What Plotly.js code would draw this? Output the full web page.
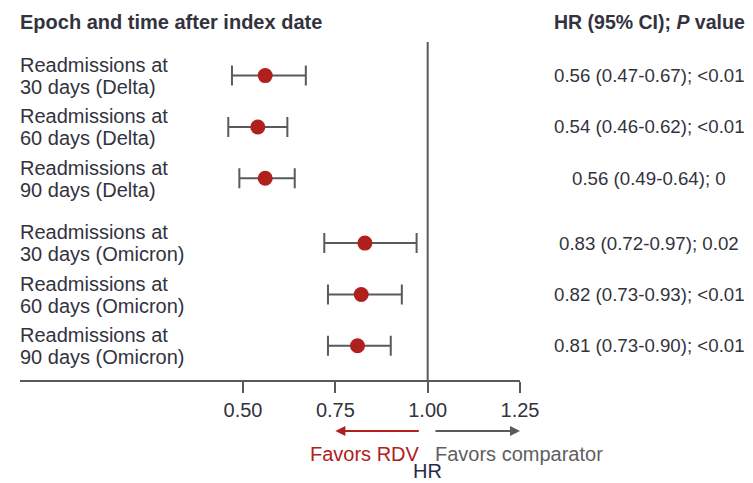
<!DOCTYPE html>
<html>
<head>
<meta charset="utf-8">
<script src="https://cdn.plot.ly/plotly-3.0.1.min.js"></script>
<style>html,body{margin:0;padding:0;background:#fff;}#chart{width:753px;height:483px;}</style>
</head>
<body>
<div id="chart"></div>
<script>
// ---- data ----
const labelLine1 = ["Readmissions at","Readmissions at","Readmissions at","Readmissions at","Readmissions at","Readmissions at"];
const labelLine2 = ["30 days (Delta)","60 days (Delta)","90 days (Delta)","30 days (Omicron)","60 days (Omicron)","90 days (Omicron)"];
const groups = [0,0,0,1,1,1];
const hr   = [0.56, 0.54, 0.56, 0.83, 0.82, 0.81];
const ciLo = [0.47, 0.46, 0.49, 0.72, 0.73, 0.73];
const ciHi = [0.67, 0.62, 0.64, 0.97, 0.93, 0.90];
const pText = ["<0.01","<0.01","0","0.02","<0.01","<0.01"];
const tickVals = [0.50, 0.75, 1.00, 1.25];
const tickText = ["0.50","0.75","1.00","1.25"];

// ---- layout helpers ----
const groupGap = 0.262;
const ypos = hr.map((_, i) => i + groups[i] * groupGap);
const fmt = v => v.toFixed(2);
const rightText = hr.map((v, i) => `${fmt(v)} (${fmt(ciLo[i])}-${fmt(ciHi[i])}); ${pText[i]}`);

const FONT = "Liberation Sans, Arial, sans-serif";
const TXT = "#333340";
const GRAY = "#5a5a5a";
const RED = "#b0201c";
const FS = 20;
const FSR = 18.7;

const trace = {
  type: "scatter",
  mode: "markers",
  x: hr,
  y: ypos,
  marker: {size: 15, color: RED},
  error_x: {
    type: "data", symmetric: false,
    array: hr.map((v, i) => ciHi[i] - v),
    arrayminus: hr.map((v, i) => v - ciLo[i]),
    color: GRAY, thickness: 2, width: 10
  },
  hoverinfo: "skip",
  showlegend: false,
  cliponaxis: false
};

const annotations = [];
ypos.forEach((y, i) => {
  annotations.push({xref: "paper", x: 0, xshift: -2, yref: "y", y: y, yshift: 10.7, text: labelLine1[i],
    xanchor: "left", yanchor: "middle", showarrow: false, font: {family: FONT, size: FS, color: TXT}});
  annotations.push({xref: "paper", x: 0, xshift: -2, yref: "y", y: y, yshift: -11.3, text: labelLine2[i],
    xanchor: "left", yanchor: "middle", showarrow: false, font: {family: FONT, size: FS, color: TXT}});
  annotations.push({xref: "paper", x: 1.258, yref: "y", y: y, text: rightText[i],
    xanchor: "center", yanchor: "middle", showarrow: false, font: {family: FONT, size: FSR, color: TXT}});
});
// headers
annotations.push({xref: "paper", x: 0, xshift: -2, yref: "paper", y: 1, yshift: 20, text: "<b>Epoch and time after index date</b>",
  xanchor: "left", yanchor: "middle", showarrow: false, font: {family: FONT, size: FS, color: TXT}});
annotations.push({xref: "paper", x: 1.258, yref: "paper", y: 1, yshift: 20, text: "<b>HR (95% CI); <i>P</i> value</b>",
  xanchor: "center", yanchor: "middle", showarrow: false, font: {family: FONT, size: 19.5, color: TXT}});
// arrows
annotations.push({xref: "x", x: 0.75, yref: "paper", y: -0.151, axref: "x", ax: 0.98, ayref: "pixel", ay: 0,
  text: "", showarrow: true, arrowhead: 2, arrowsize: 1, arrowwidth: 2, arrowcolor: RED});
annotations.push({xref: "x", x: 1.25, yref: "paper", y: -0.151, axref: "x", ax: 1.017, ayref: "pixel", ay: 0,
  text: "", showarrow: true, arrowhead: 2, arrowsize: 1, arrowwidth: 2, arrowcolor: GRAY});
annotations.push({xref: "x", x: 0.98, xshift: 2, yref: "paper", y: -0.219, text: "Favors RDV",
  xanchor: "right", yanchor: "middle", showarrow: false, font: {family: FONT, size: FS, color: RED}});
annotations.push({xref: "x", x: 1.02, xshift: -2, yref: "paper", y: -0.219, text: "Favors comparator",
  xanchor: "left", yanchor: "middle", showarrow: false, font: {family: FONT, size: FS, color: "#606060"}});
annotations.push({xref: "x", x: 1.0, yref: "paper", y: -0.268, text: "HR",
  xanchor: "center", yanchor: "middle", showarrow: false, font: {family: FONT, size: FS, color: "#2a2a48"}});

const layout = {
  width: 753, height: 483,
  margin: {l: 20, r: 233, t: 42, b: 103},
  paper_bgcolor: "#fff", plot_bgcolor: "#fff",
  font: {family: FONT, size: FS, color: TXT},
  xaxis: {
    range: [-0.104, 1.25], showgrid: false, zeroline: false,
    showline: true, linecolor: GRAY, linewidth: 2,
    ticks: "outside", ticklen: 11, tickwidth: 2, tickcolor: GRAY,
    tickvals: tickVals, ticktext: tickText,
    tickfont: {family: FONT, size: FS, color: TXT}, fixedrange: true
  },
  yaxis: {
    range: [5.928, -0.654], showgrid: false, zeroline: false, showline: false,
    showticklabels: false, ticks: "", fixedrange: true
  },
  shapes: [{type: "line", xref: "x", x0: 1, x1: 1, yref: "paper", y0: 0, y1: 1,
    line: {color: GRAY, width: 2}}],
  annotations: annotations
};

Plotly.newPlot("chart", [trace], layout, {displayModeBar: false, staticPlot: true});
</script>
</body>
</html>
